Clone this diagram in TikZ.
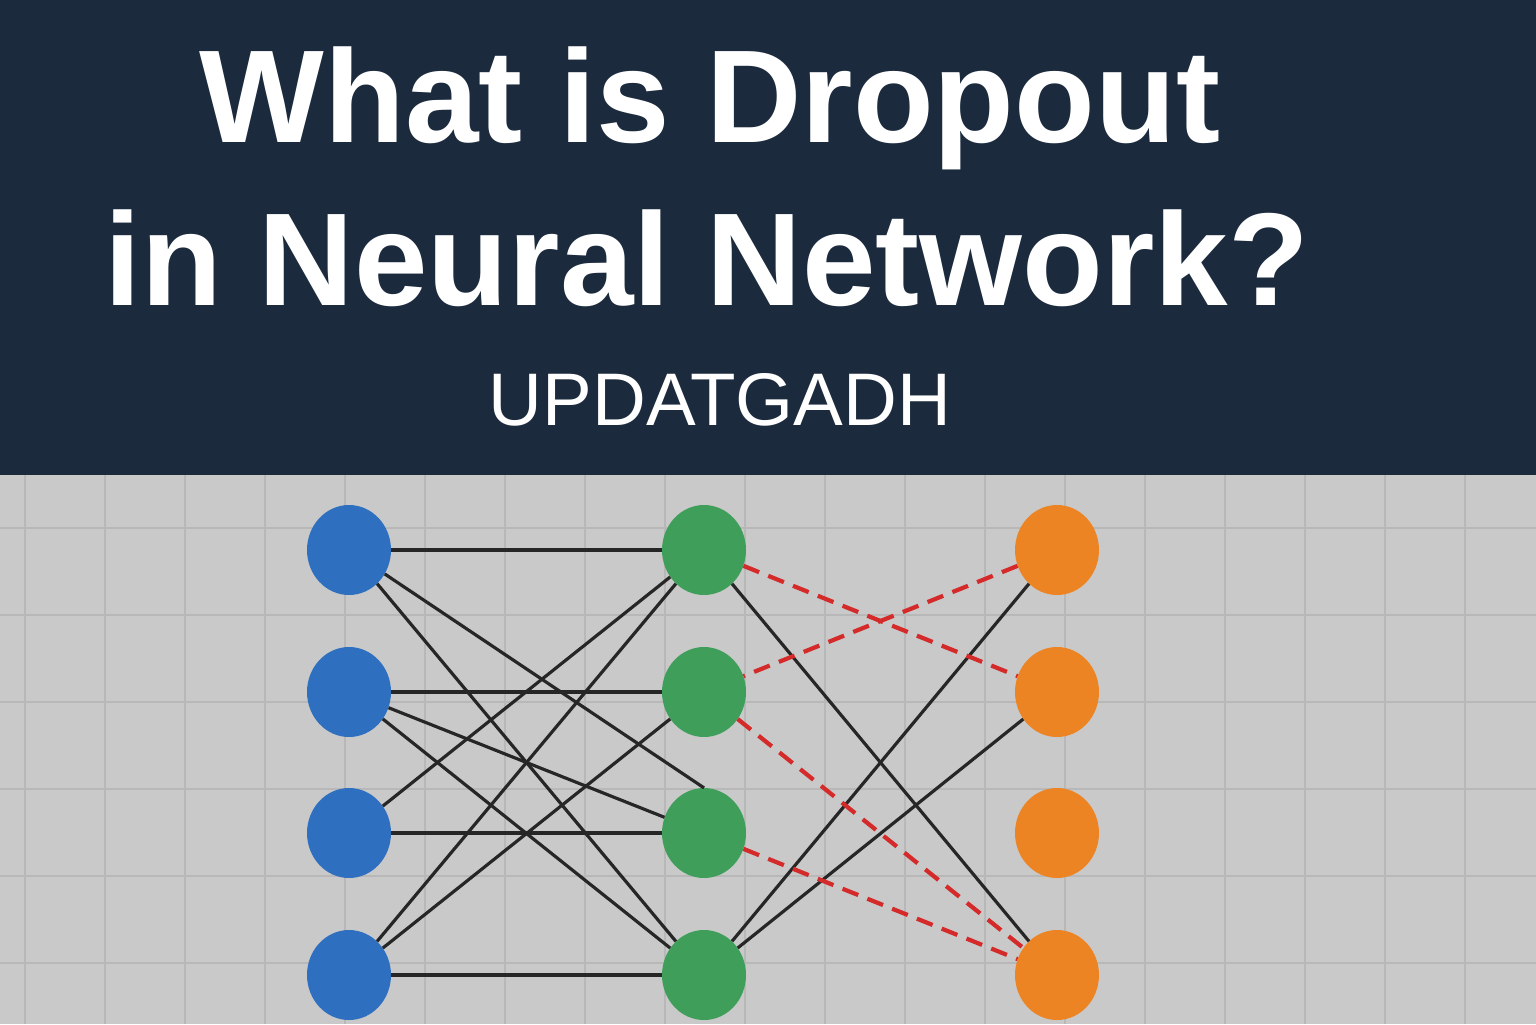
\documentclass[tikz,border=0pt]{standalone}
\usepackage{fontspec}
\setmainfont{Liberation Sans}
\usetikzlibrary{shapes.geometric}
\definecolor{navy}{HTML}{1B2A3D}
\definecolor{paper}{HTML}{C9C9C9}
\definecolor{gridline}{HTML}{B8B8B8}
\definecolor{inblue}{HTML}{2F6FBF}
\definecolor{hidgreen}{HTML}{3F9E5A}
\definecolor{outorange}{HTML}{EC8424}
\definecolor{dropred}{HTML}{D42A2A}
\tikzset{
  neuron/.style={ellipse, minimum width=4.2cm, minimum height=4.5cm, inner sep=0pt},
  link/.style={draw=black!85, line width=4.5pt},
  drop/.style={draw=dropred, line width=6pt, dash pattern=on 24pt off 14pt},
}
\begin{document}
\begin{tikzpicture}[x=0.05cm, y=-0.05cm]
  \useasboundingbox (0,0) rectangle (1536,1024);
  % header and grid
  \fill [navy] (0,0) rectangle (1536,475);
  \fill [paper] (0,475) rectangle (1536,1024);
  \begin{scope}
    \clip (0,475) rectangle (1536,1024);
    \foreach \x in {25,105,...,1545}
      \draw [gridline, line width=2pt] (\x,475) -- (\x,1024);
    \foreach \y in {528,615,...,1030}
      \draw [gridline, line width=2pt] (0,\y) -- (1536,\y);
  \end{scope}
  % titles
  \node [white, font=\bfseries\fontsize{188}{190}\selectfont] (title1) at (710,108) {What is Dropout};
  \node [white, font=\bfseries\fontsize{188}{190}\selectfont] (title2) at (707,258) {in Neural Network?};
  \node [white, font=\fontsize{106}{110}\selectfont] (brand) at (720,400) {UPDATGADH};
  % neurons
  \foreach \i/\y in {1/550,2/692,3/833,4/975} {
    \node [neuron, fill=inblue] (b\i) at (349,\y) {};
    \node [neuron, fill=hidgreen] (g\i) at (704,\y) {};
    \node [neuron, fill=outorange] (o\i) at (1057,\y) {};
  }
  % kept connections
  \draw [link] (b1) -- (g1);
  \draw [link] (b1) -- (g3.north);
  \draw [link] (b1) -- (g4);
  \draw [link] (b2) -- (g2);
  \draw [link] (b2) -- (g3);
  \draw [link] (b2) -- (g4);
  \draw [link] (b3) -- (g1);
  \draw [link] (b3) -- (g3);
  \draw [link] (b4) -- (g1);
  \draw [link] (b4) -- (g2);
  \draw [link] (b4) -- (g4);
  \draw [link] (g1) -- (o4);
  \draw [link] (g4) -- (o1);
  \draw [link] (g4) -- (o2);
  % dropped connections
  \draw [drop] (g1) -- (o2);
  \draw [drop] (o1) -- (g2);
  \draw [drop] (g2) -- (o4);
  \draw [drop] (g3) -- (o4);
\end{tikzpicture}
\end{document}
